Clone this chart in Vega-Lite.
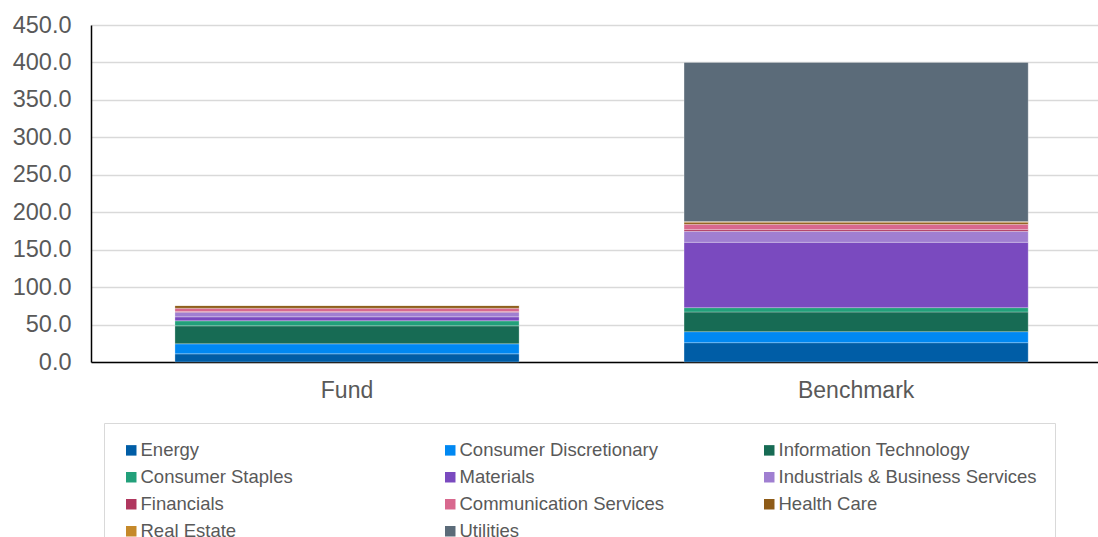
{
  "$schema": "https://vega.github.io/schema/vega-lite/v6.json",
  "width": 1007,
  "height": 337,
  "autosize": {"type": "none"},
  "padding": {"left": 91, "top": 25, "right": 0, "bottom": 175},
  "background": "white",
  "config": {
    "view": {"stroke": null},
    "font": "Liberation Sans",
    "axis": {"labelFont": "Liberation Sans", "labelColor": "#595959"}
  },
  "data": {
    "values": [
      {"portfolio": "Fund", "sector": "Energy", "idx": 1, "value": 10.9},
      {"portfolio": "Fund", "sector": "Consumer Discretionary", "idx": 2, "value": 13.4},
      {"portfolio": "Fund", "sector": "Information Technology", "idx": 3, "value": 24.0},
      {"portfolio": "Fund", "sector": "Consumer Staples", "idx": 4, "value": 6.7},
      {"portfolio": "Fund", "sector": "Materials", "idx": 5, "value": 5.3},
      {"portfolio": "Fund", "sector": "Industrials & Business Services", "idx": 6, "value": 6.2},
      {"portfolio": "Fund", "sector": "Financials", "idx": 7, "value": 0.9},
      {"portfolio": "Fund", "sector": "Communication Services", "idx": 8, "value": 4.4},
      {"portfolio": "Fund", "sector": "Health Care", "idx": 9, "value": 3.6},
      {"portfolio": "Fund", "sector": "Real Estate", "idx": 10, "value": 0.0},
      {"portfolio": "Fund", "sector": "Utilities", "idx": 11, "value": 0.0},
      {"portfolio": "Benchmark", "sector": "Energy", "idx": 1, "value": 25.8},
      {"portfolio": "Benchmark", "sector": "Consumer Discretionary", "idx": 2, "value": 14.7},
      {"portfolio": "Benchmark", "sector": "Information Technology", "idx": 3, "value": 26.3},
      {"portfolio": "Benchmark", "sector": "Consumer Staples", "idx": 4, "value": 5.8},
      {"portfolio": "Benchmark", "sector": "Materials", "idx": 5, "value": 87.2},
      {"portfolio": "Benchmark", "sector": "Industrials & Business Services", "idx": 6, "value": 14.7},
      {"portfolio": "Benchmark", "sector": "Financials", "idx": 7, "value": 2.3},
      {"portfolio": "Benchmark", "sector": "Communication Services", "idx": 8, "value": 7.1},
      {"portfolio": "Benchmark", "sector": "Health Care", "idx": 9, "value": 2.7},
      {"portfolio": "Benchmark", "sector": "Real Estate", "idx": 10, "value": 1.0},
      {"portfolio": "Benchmark", "sector": "Utilities", "idx": 11, "value": 212.3}
    ]
  },
  "mark": {"type": "bar", "stroke": "white", "strokeWidth": 0.6, "strokeOpacity": 0.45},
  "encoding": {
    "x": {
      "field": "portfolio",
      "type": "nominal",
      "sort": ["Fund", "Benchmark"],
      "scale": {"paddingInner": 0.324, "paddingOuter": 0.151, "align": 0.546},
      "axis": {
        "title": null,
        "labelAngle": 0,
        "labelFontSize": 23,
        "labelPadding": 17,
        "ticks": false,
        "domainColor": "#000000",
        "domainWidth": 1.5
      }
    },
    "y": {
      "field": "value",
      "type": "quantitative",
      "stack": "zero",
      "scale": {"domain": [0, 450], "nice": false},
      "axis": {
        "title": null,
        "values": [0, 50, 100, 150, 200, 250, 300, 350, 400, 450],
        "format": ".1f",
        "labelFontSize": 23.5,
        "labelPadding": 20,
        "ticks": false,
        "domainColor": "#000000",
        "domainWidth": 1.5,
        "gridColor": "#d9d9d9",
        "gridWidth": 1.5
      }
    },
    "order": {"field": "idx", "type": "quantitative", "sort": "ascending"},
    "color": {
      "field": "sector",
      "type": "nominal",
      "sort": ["Energy", "Consumer Discretionary", "Information Technology", "Consumer Staples", "Materials", "Industrials & Business Services", "Financials", "Communication Services", "Health Care", "Real Estate", "Utilities"],
      "scale": {
        "domain": ["Energy", "Consumer Discretionary", "Information Technology", "Consumer Staples", "Materials", "Industrials & Business Services", "Financials", "Communication Services", "Health Care", "Real Estate", "Utilities"],
        "range": ["#005DA6", "#0088F2", "#176B54", "#22A07A", "#7A4ABF", "#A07FD1", "#B0375F", "#D8688E", "#8E5B17", "#C5892A", "#5B6B79"]
      },
      "legend": {
        "title": null,
        "orient": "none",
        "direction": "horizontal",
        "legendX": 13,
        "legendY": 398,
        "columns": 3,
        "gridAlign": "all",
        "columnPadding": 42,
        "rowPadding": 8,
        "padding": 18,
        "strokeColor": "#d9d9d9",
        "symbolType": "square",
        "symbolSize": 110,
        "symbolStrokeWidth": 0,
        "symbolOpacity": 1,
        "labelFontSize": 18.5,
        "labelColor": "#595959",
        "labelOffset": 0,
        "labelLimit": 400
      }
    }
  }
}
